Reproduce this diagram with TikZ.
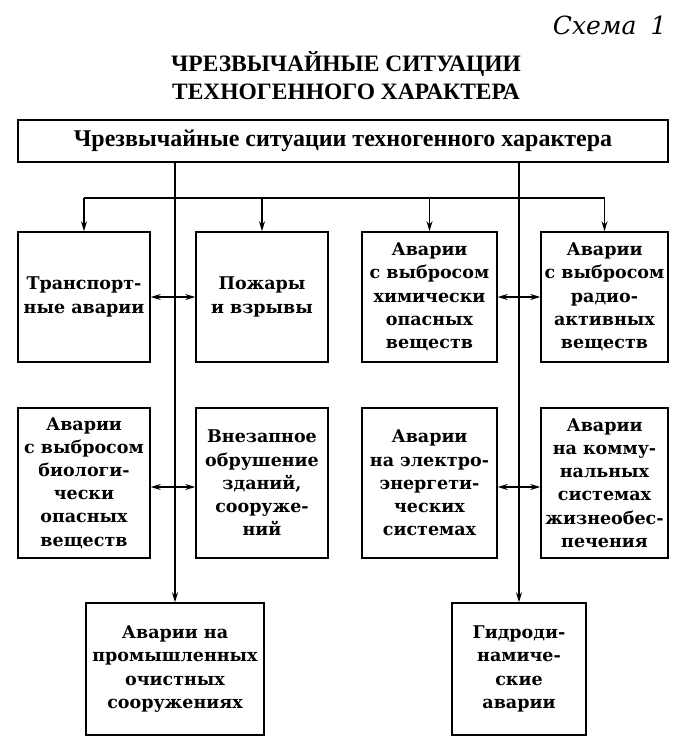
\documentclass[tikz,border=0pt]{standalone}
\usepackage{fontspec}
\setmainfont{DejaVu Serif}
\newfontfamily\headfont{Liberation Serif}
\usetikzlibrary{arrows.meta}

\begin{document}
\begin{tikzpicture}[x=1pt,y=-1pt,
  box/.style={draw,line width=1.5pt,align=center,inner sep=0pt,
    font=\bfseries\fontsize{17.5}{23.2}\selectfont},
  link/.style={line width=1.4pt},
  dbl/.style={link,{Stealth[length=10pt,width=6pt]}-{Stealth[length=10pt,width=6pt]}},
  down/.style={link,-{Stealth[length=10pt,width=6pt]}}]
  \useasboundingbox (0,0) rectangle (686,754);
  % heading
  \node[anchor=east,font=\itshape\fontsize{25}{28}\selectfont] (scheme) at (670,25) {Схема\hspace{14pt}1};
  \node[align=center,font=\headfont\bfseries\fontsize{23.5}{28}\selectfont] (title) at (346,76)
    {ЧРЕЗВЫЧАЙНЫЕ СИТУАЦИИ\\ТЕХНОГЕННОГО ХАРАКТЕРА};
  \node[box,minimum width=650pt,minimum height=42pt,font=\headfont\bfseries\fontsize{24}{26}\selectfont] (top) at (343,141)
    {Чрезвычайные ситуации техногенного характера};
  % first row
  \node[box,minimum width=132pt,minimum height=130pt] (trans) at (84,297) {Транспорт-\\ные аварии};
  \node[box,minimum width=132pt,minimum height=130pt] (fire) at (262,297) {Пожары\\и взрывы};
  \node[box,minimum width=135pt,minimum height=130pt] (chem) at (429.5,297) {Аварии\\с выбросом\\химически\\опасных\\веществ};
  \node[box,minimum width=127pt,minimum height=130pt] (rad) at (604.5,297) {Аварии\\с выбросом\\радио-\\активных\\веществ};
  % second row
  \node[box,minimum width=132pt,minimum height=150pt] (bio) at (84,483) {Аварии\\с выбросом\\биологи-\\чески\\опасных\\веществ};
  \node[box,minimum width=132pt,minimum height=150pt] (build) at (262,483) {Внезапное\\обрушение\\зданий,\\сооруже-\\ний};
  \node[box,minimum width=135pt,minimum height=150pt] (power) at (429.5,483) {Аварии\\на электро-\\энергети-\\ческих\\системах};
  \node[box,minimum width=127pt,minimum height=150pt] (util) at (604.5,483) {Аварии\\на комму-\\нальных\\системах\\жизнеобес-\\печения};
  % third row
  \node[box,minimum width=178pt,minimum height=132pt] (clean) at (175,669) {Аварии на\\промышленных\\очистных\\сооружениях};
  \node[box,minimum width=134pt,minimum height=132pt] (hydro) at (519,669) {Гидроди-\\намиче-\\ские\\аварии};
  % connectors
  \coordinate (bus) at (0,198);
  \draw[down] (top.south -| clean.north) -- (clean.north);
  \draw[down] (top.south -| hydro.north) -- (hydro.north);
  \draw[link] (trans.north |- bus) -- (rad.north |- bus);
  \foreach \n in {trans,fire,chem,rad} \draw[down] (\n.north |- bus) -- (\n.north);
  \draw[dbl] (trans.east) -- (fire.west);
  \draw[dbl] (chem.east) -- (rad.west);
  \draw[dbl] ([yshift=-4pt]bio.east) -- ([yshift=-4pt]build.west);
  \draw[dbl] ([yshift=-4pt]power.east) -- ([yshift=-4pt]util.west);
\end{tikzpicture}
\end{document}
